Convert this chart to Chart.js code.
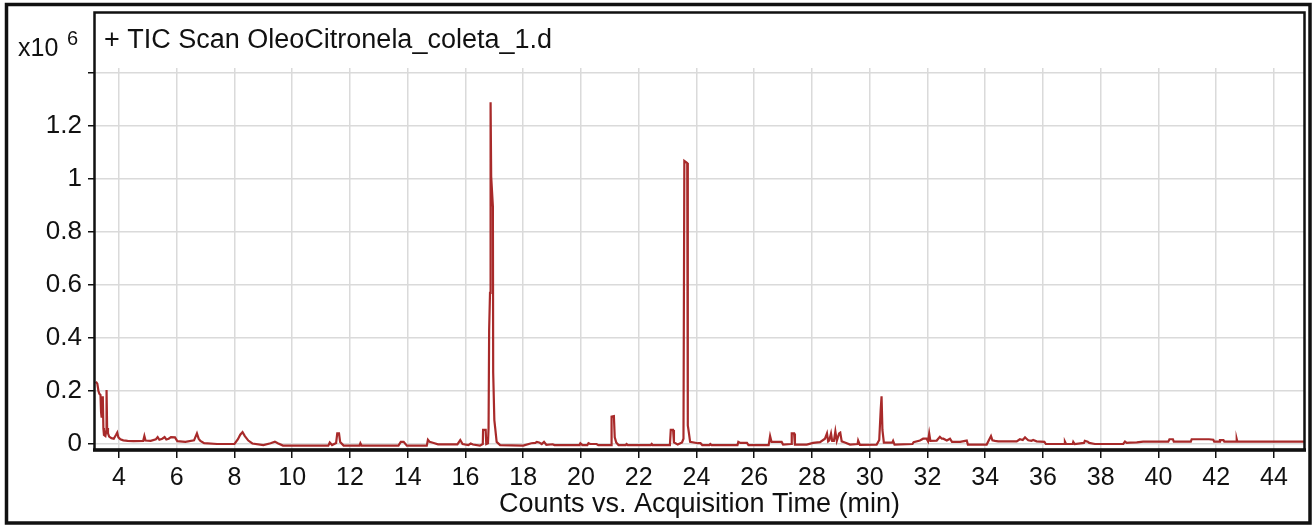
<!DOCTYPE html>
<html>
<head>
<meta charset="utf-8">
<title>TIC Scan OleoCitronela_coleta_1.d</title>
<script src="https://cdn.jsdelivr.net/npm/chart.js@4/dist/chart.umd.min.js"></script>
<style>
  html, body { margin: 0; padding: 0; background: #fff; }
  canvas { display: block; }
</style>
</head>
<body>
<canvas id="tic" width="1314" height="527"></canvas>
<script>
// retention time (min) and total ion count (x10^6)
const times = [
  3.20, 3.25, 3.29, 3.32, 3.36, 3.38, 3.40, 3.42, 3.44, 3.46, 3.48, 3.53, 3.56, 3.57, 3.59, 3.62, 3.66, 3.74, 3.82, 3.90,
  3.94, 3.98, 4.05, 4.15, 4.30, 4.50, 4.84, 4.88, 4.92, 5.10, 5.28, 5.34, 5.40, 5.50, 5.58, 5.64, 5.72, 5.80, 5.94, 6.02,
  6.30, 6.60, 6.70, 6.76, 6.82, 6.95, 7.40, 8.00, 8.12, 8.20, 8.28, 8.36, 8.48, 8.62, 9.00, 9.25, 9.40, 9.50, 9.68, 11.25,
  11.30, 11.38, 11.52, 11.56, 11.62, 11.66, 11.78, 12.33, 12.36, 12.40, 13.68, 13.76, 13.86, 13.97, 14.66, 14.70, 14.76, 14.90, 15.05, 15.72,
  15.82, 15.90, 16.10, 16.18, 16.26, 16.50, 16.60, 16.61, 16.70, 16.72, 16.78, 16.80, 16.82, 16.85, 16.87, 16.89, 16.95, 16.96, 17.00, 17.03,
  17.08, 17.20, 18.00, 18.28, 18.42, 18.47, 18.55, 18.64, 18.72, 18.80, 19.02, 19.08, 19.95, 19.98, 20.05, 20.22, 20.26, 20.32, 20.54, 20.60,
  21.05, 21.06, 21.14, 21.17, 21.22, 21.30, 21.55, 21.58, 21.62, 22.42, 22.45, 22.48, 23.08, 23.11, 23.19, 23.22, 23.35, 23.50, 23.55, 23.58,
  23.68, 23.70, 23.74, 23.78, 24.05, 24.14, 24.20, 24.45, 24.48, 24.52, 25.42, 25.45, 25.52, 25.75, 25.80, 26.50, 26.55, 26.60, 26.95, 27.00,
  27.28, 27.30, 27.38, 27.41, 27.82, 28.04, 28.28, 28.45, 28.52, 28.56, 28.60, 28.66, 28.70, 28.76, 28.81, 28.86, 28.94, 28.98, 29.03, 29.14,
  29.32, 29.58, 29.60, 29.66, 30.24, 30.33, 30.38, 30.41, 30.44, 30.49, 30.78, 30.81, 30.86, 31.48, 31.52, 31.74, 31.85, 31.97, 32.02, 32.06,
  32.10, 32.32, 32.43, 32.50, 32.55, 32.67, 32.78, 32.85, 33.13, 33.36, 33.40, 34.05, 34.20, 34.25, 34.34, 34.45, 35.09, 35.20, 35.30, 35.38,
  35.43, 35.49, 35.60, 35.66, 35.78, 36.05, 36.10, 36.74, 36.76, 36.80, 37.03, 37.05, 37.10, 37.42, 37.45, 37.55, 37.60, 37.80, 38.78, 38.84,
  38.90, 39.01, 39.25, 39.47, 39.53, 40.34, 40.38, 40.50, 40.53, 41.12, 41.15, 41.45, 41.75, 41.90, 41.93, 42.11, 42.13, 42.25, 42.28, 42.69,
  42.71, 42.73, 45.05
];
const counts = [
  0.235, 0.228, 0.200, 0.190, 0.185, 0.120, 0.100, 0.175, 0.180, 0.060, 0.034, 0.030, 0.050, 0.204, 0.060, 0.040, 0.028, 0.022, 0.020, 0.035,
  0.043, 0.025, 0.018, 0.014, 0.012, 0.011, 0.012, 0.030, 0.013, 0.012, 0.018, 0.026, 0.016, 0.020, 0.026, 0.017, 0.020, 0.026, 0.025, 0.011,
  0.008, 0.014, 0.040, 0.020, 0.012, 0.003, 0.000, 0.000, 0.018, 0.035, 0.045, 0.030, 0.013, 0.002, -0.004, 0.003, 0.009, 0.003, -0.006, -0.006,
  0.006, -0.004, 0.004, 0.040, 0.040, 0.008, -0.006, -0.006, 0.003, -0.006, -0.006, 0.008, 0.008, -0.006, -0.006, 0.016, 0.008, 0.004, -0.001, -0.001,
  0.015, 0.000, -0.004, 0.002, -0.002, -0.006, 0.000, 0.053, 0.053, 0.000, 0.003, 0.060, 0.430, 0.570, 1.290, 1.010, 0.895, 0.270, 0.090, 0.060,
  0.008, -0.004, -0.006, 0.003, 0.004, 0.008, 0.006, 0.000, 0.008, -0.003, -0.001, -0.004, -0.004, 0.003, -0.004, -0.004, 0.003, 0.000, 0.000, -0.004,
  -0.004, 0.103, 0.105, 0.025, 0.006, -0.004, -0.004, 0.000, -0.004, -0.004, 0.000, -0.004, -0.004, 0.053, 0.053, 0.006, -0.002, 0.006, 0.020, 1.068,
  1.060, 0.070, 0.040, 0.008, 0.003, 0.003, -0.004, -0.004, 0.000, -0.004, -0.004, 0.008, 0.004, 0.004, -0.004, -0.004, 0.030, 0.008, 0.008, -0.002,
  0.000, 0.040, 0.040, -0.002, -0.002, 0.004, 0.007, 0.020, 0.040, 0.010, 0.014, 0.040, 0.012, 0.012, 0.048, 0.012, 0.040, 0.043, 0.010, 0.006,
  -0.002, 0.000, 0.013, -0.003, -0.002, 0.015, 0.128, 0.180, 0.053, 0.005, 0.005, 0.012, -0.002, 0.000, 0.007, 0.013, 0.020, 0.020, 0.010, 0.040,
  0.012, 0.013, 0.027, 0.020, 0.020, 0.013, 0.020, 0.008, 0.008, 0.013, -0.002, -0.002, 0.030, 0.014, 0.012, 0.010, 0.010, 0.018, 0.015, 0.025,
  0.020, 0.014, 0.012, 0.015, 0.010, 0.008, 0.000, 0.000, 0.009, 0.000, 0.000, 0.008, 0.000, 0.004, 0.012, 0.009, 0.004, 0.000, 0.000, 0.009,
  0.004, 0.005, 0.006, 0.009, 0.009, 0.009, 0.018, 0.018, 0.009, 0.009, 0.018, 0.018, 0.018, 0.016, 0.009, 0.009, 0.015, 0.015, 0.009, 0.009,
  0.018, 0.009, 0.009
];

const xTicks = [4, 6, 8, 10, 12, 14, 16, 18, 20, 22, 24, 26, 28, 30, 32, 34, 36, 38, 40, 42, 44];
const yTicks = [0, 0.2, 0.4, 0.6, 0.8, 1, 1.2, 1.4];
const yTickLabels = ['0', '0.2', '0.4', '0.6', '0.8', '1', '1.2', ''];

const titleText = '+ TIC Scan OleoCitronela_coleta_1.d';
const axisTitle = 'Counts vs. Acquisition Time (min)';

const FONT = "'Liberation Sans', Arial, Helvetica, sans-serif";
const INK = '#111';

// outer box, inner plot box, scan title and the x10^6 multiplier
const framePlugin = {
  id: 'frame',
  afterDraw(chart) {
    const ctx = chart.ctx;
    const a = chart.chartArea;
    ctx.save();
    ctx.strokeStyle = INK;

    ctx.lineWidth = 3.5;
    ctx.strokeRect(6.5, 4.5, 1303.5, 518.5);

    ctx.lineWidth = 2.5;
    ctx.strokeRect(a.left - 0.5, 12.5, a.right - a.left + 1, a.bottom - 12.5);
    ctx.lineWidth = 3.5;
    ctx.beginPath();
    ctx.moveTo(a.left - 2, a.bottom);
    ctx.lineTo(a.right + 2, a.bottom);
    ctx.stroke();

    ctx.fillStyle = INK;
    ctx.textBaseline = 'alphabetic';
    ctx.textAlign = 'left';
    ctx.font = '27px ' + FONT;
    ctx.fillText(titleText, 104, 48);

    ctx.font = '25px ' + FONT;
    ctx.fillText('x10', 18, 56);
    ctx.font = '20px ' + FONT;
    ctx.fillText('6', 67, 45);
    ctx.restore();
  }
};

const points = times.map((t, i) => ({ x: t, y: counts[i] }));

new Chart(document.getElementById('tic'), {
  type: 'line',
  data: {
    datasets: [{
      data: points,
      borderColor: '#a82a2a',
      borderWidth: 2.2,
      pointRadius: 0,
      tension: 0,
      fill: false
    }]
  },
  options: {
    responsive: false,
    animation: false,
    events: [],
    layout: { padding: { top: 68, right: 10, left: 0, bottom: 0 } },
    plugins: {
      legend: { display: false },
      tooltip: { enabled: false }
    },
    scales: {
      x: {
        type: 'linear',
        min: 3.17,
        max: 45.04,
        afterBuildTicks: s => { s.ticks = xTicks.map(v => ({ value: v })); },
        afterFit: s => { s.height = 77; },
        border: { display: false },
        grid: {
          color: '#dadada',
          lineWidth: 1.5,
          tickColor: INK,
          tickWidth: 1.5,
          tickLength: 8
        },
        ticks: {
          autoSkip: false,
          maxRotation: 0,
          padding: 5,
          color: INK,
          font: { family: FONT, size: 25 }
        },
        title: {
          display: true,
          text: axisTitle,
          color: INK,
          font: { family: FONT, size: 27 },
          padding: { top: 0, bottom: 6 }
        }
      },
      y: {
        min: -0.0226,
        max: 1.4189,
        afterBuildTicks: s => { s.ticks = yTicks.map(v => ({ value: v })); },
        afterFit: s => { s.width = 95; },
        border: { display: false },
        grid: {
          color: '#dadada',
          lineWidth: 1.5,
          tickColor: INK,
          tickWidth: 1.5,
          tickLength: 7
        },
        ticks: {
          padding: 6,
          color: INK,
          font: { family: FONT, size: 26 },
          callback: (v, i) => yTickLabels[i]
        }
      }
    }
  },
  plugins: [framePlugin]
});
</script>
</body>
</html>
